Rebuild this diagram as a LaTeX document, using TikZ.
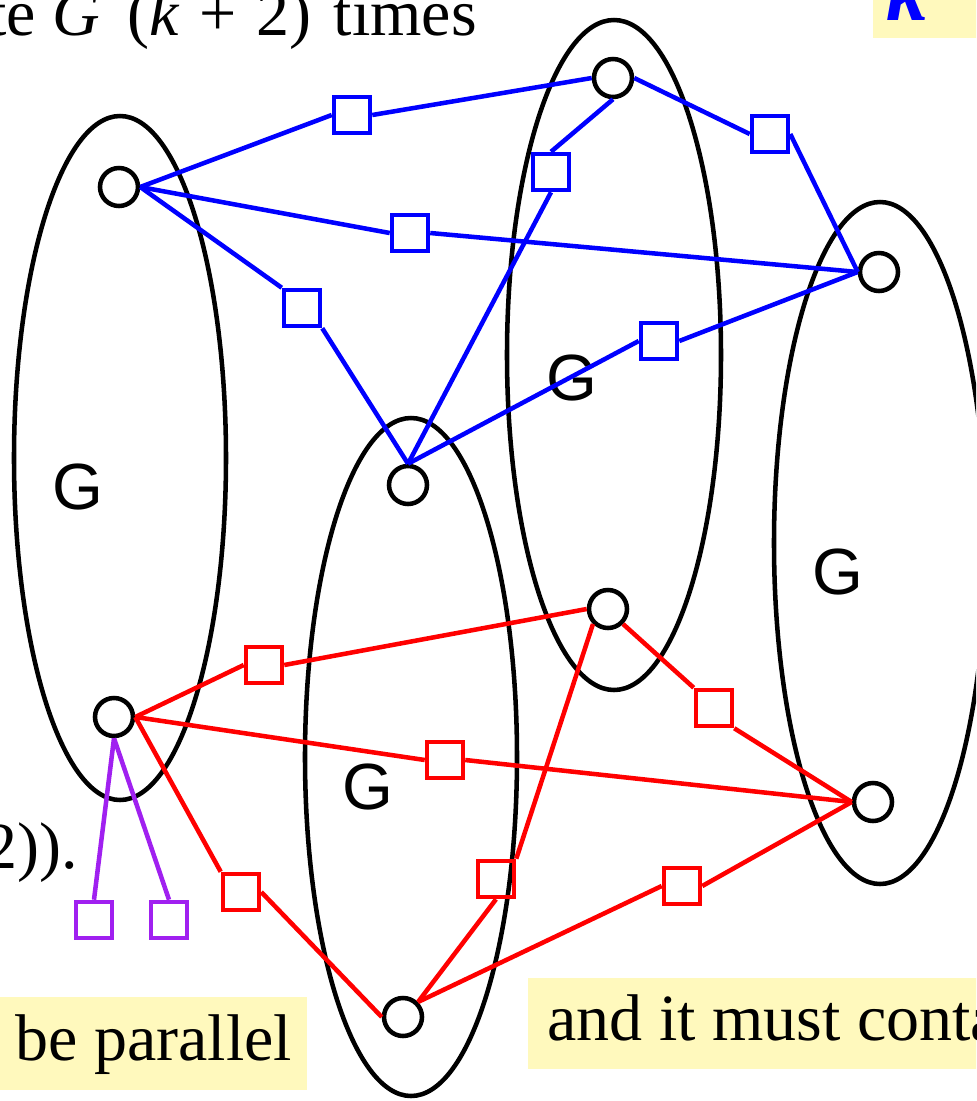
\documentclass[tikz,border=0pt]{standalone}
\usepackage{fontspec}
\setmainfont{Liberation Serif}
\newfontfamily\gsans{Liberation Sans}
\definecolor{hl}{RGB}{255,249,189}
\definecolor{pur}{RGB}{160,32,240}
\begin{document}
\begin{tikzpicture}[x=0.75pt,y=-0.75pt,
  vtx/.style={circle,draw=black,line width=3.4pt,minimum size=28.5pt,inner sep=0pt},
  sq/.style={rectangle,line width=3.4pt,minimum size=27pt,inner sep=0pt},
  bsq/.style={sq,draw=blue}, rsq/.style={sq,draw=red}, psq/.style={sq,draw=pur},
  bl/.style={blue,line width=3.4pt}, rl/.style={red,line width=3.4pt}, pl/.style={pur,line width=3.4pt},
  ell/.style={black,line width=3.4pt},
  glab/.style={font=\gsans\fontsize{49}{56}\selectfont, inner sep=0pt},
  txt/.style={font=\fontsize{49.5}{56}\selectfont, inner sep=0pt}]
\useasboundingbox (0,0) rectangle (976,1101);
\clip (0,0) rectangle (976,1101);

% highlight boxes
\fill[hl] (0,997) rectangle (307,1090);
\fill[hl] (528,978) rectangle (990,1069);
\fill[hl] (873,-10) rectangle (990,38);

% ellipses
\draw[ell] (120,458) ellipse [x radius=79.5pt, y radius=256.5pt];
\draw[ell] (411,757) ellipse [x radius=79.5pt, y radius=254.25pt];
\draw[ell] (614,355) ellipse [x radius=80.25pt, y radius=251.25pt];
\draw[ell] (880,543) ellipse [x radius=79.5pt, y radius=255.75pt];

% G labels
\node[glab] (g1) at (78,487) {G};
\node[glab] (g2) at (368,787) {G};
\node[glab] (g3) at (572,378) {G};
\node[glab] (g4) at (838,572) {G};

% vertices
\node[vtx] (A) at (119,187) {};
\node[vtx] (B) at (613,78) {};
\node[vtx] (C) at (879,272) {};
\node[vtx] (D) at (408,485) {};
\node[vtx] (E) at (114,717) {};
\node[vtx] (F) at (608,609) {};
\node[vtx] (H) at (873,802) {};
\node[vtx] (I) at (403,1017) {};

% blue squares
\node[bsq] (s1) at (352,115) {};
\node[bsq] (s2) at (770,134) {};
\node[bsq] (s3) at (551,172) {};
\node[bsq] (s4) at (410,233) {};
\node[bsq] (s5) at (302,308) {};
\node[bsq] (s6) at (659,341) {};
% red squares
\node[rsq] (r1) at (264,665) {};
\node[rsq] (r2) at (714,708) {};
\node[rsq] (r3) at (445,760) {};
\node[rsq] (r4) at (241,892) {};
\node[rsq] (r5) at (496,879) {};
\node[rsq] (r6) at (682,886) {};
% purple squares
\node[psq] (p1) at (94,920) {};
\node[psq] (p2) at (169,920) {};

% blue edges
\draw[bl] (A.east) -- (s1.west) (s1.east) -- (B.west);
\draw[bl] (B.east) -- (s2.west) (s2.east) -- (C.west);
\draw[bl] (B.south) -- (s3.north) (s3.south) -- (D.north);
\draw[bl] (A.east) -- (s4.west) (s4.east) -- (C.west);
\draw[bl] (A.east) -- (s5.north west) (s5.south east) -- (D.north);
\draw[bl] (D.north) -- (s6.west) (s6.east) -- (C.west);

% red edges
\draw[rl] (E.east) -- (r1.west) (r1.east) -- (F.west);
\draw[rl] (F.south east) -- (r2.north west) (r2.south east) -- (H.west);
\draw[rl] (E.east) -- (r3.west) (r3.east) -- (H.west);
\draw[rl] (E.east) -- (r4.north west) (r4.east) -- (I.west);
\draw[rl] (F.south west) -- (r5.north east) (r5.south) -- (I.north east);
\draw[rl] (I.north east) -- (r6.west) (r6.east) -- (H.west);

% purple edges
\draw[pl] (E.south) -- (p1.north);
\draw[pl] (E.south) -- (p2.north);

% texts
\node[txt, anchor=base east] (t1) at (477,35) {te \textit{G}\hspace{0.42em}(\textit{k}\hspace{0.3em}+\hspace{0.3em}2)\hspace{0.33em}times};
\node[txt, anchor=base east] (t2) at (78,868) {2)).};
\node[txt, anchor=base west] (t3) at (15,1060) {be parallel};
\node[txt, anchor=base west] (t4) at (547,1040) {and it must conta};
\node[font=\fontsize{62}{70}\selectfont, inner sep=0pt, anchor=base west, text=blue] (t5) at (886,20) {\textbf{\textit{k}}};
\end{tikzpicture}
\end{document}
